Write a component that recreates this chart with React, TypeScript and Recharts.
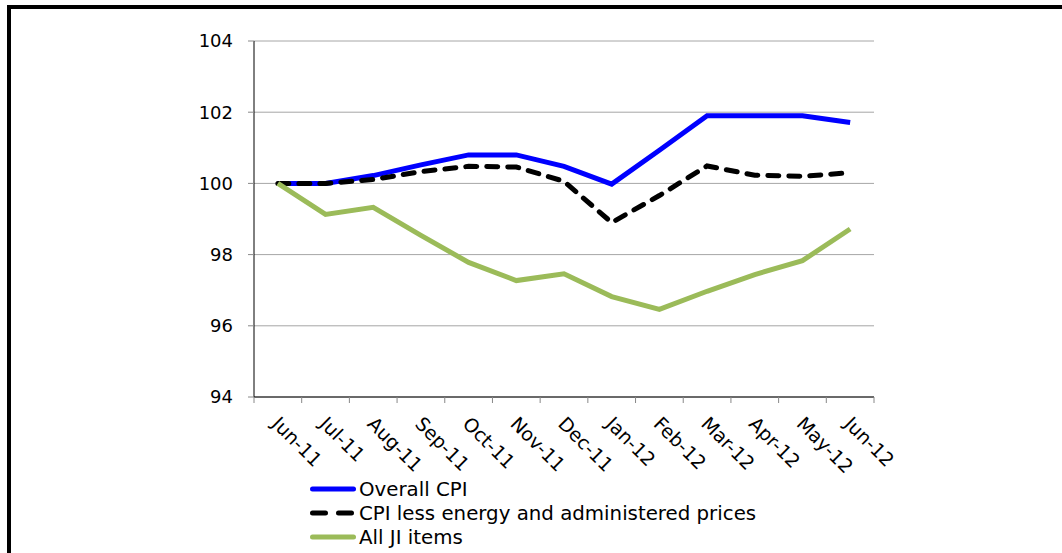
import React from "react";
import { LineChart, Line, XAxis, YAxis, CartesianGrid, Legend } from "recharts";

const months = [
  "Jun-11", "Jul-11", "Aug-11", "Sep-11", "Oct-11", "Nov-11", "Dec-11",
  "Jan-12", "Feb-12", "Mar-12", "Apr-12", "May-12", "Jun-12",
];
const overallCpi = [100, 100, 100.22, 100.52, 100.8, 100.8, 100.48, 99.98, 100.93, 101.9, 101.9, 101.9, 101.71];
const coreCpi = [100, 100, 100.11, 100.33, 100.48, 100.46, 100.06, 98.9, 99.66, 100.49, 100.23, 100.2, 100.3];
const jiItems = [100, 99.13, 99.33, 98.54, 97.78, 97.27, 97.46, 96.82, 96.46, 96.97, 97.44, 97.83, 98.72];
const yTicks = [94, 96, 98, 100, 102, 104];

const seriesNames = {
  overall: "Overall CPI",
  core: "CPI less energy and administered prices",
  ji: "All JI items",
};

const FONT = "'DejaVu Sans', Verdana, sans-serif";

const data = months.map((m, i) => ({
  month: m,
  overall: overallCpi[i],
  core: coreCpi[i],
  ji: jiItems[i],
}));

const legendRows = [
  { name: seriesNames.overall, color: "#0000ff", dash: undefined },
  { name: seriesNames.core, color: "#000000", dash: "13 13" },
  { name: seriesNames.ji, color: "#9bbb59", dash: undefined },
];

// half of one category slot, ticks sit on slot boundaries like Excel
const HALF = 620 / 13 / 2;

const MonthTick = (props: any) => {
  const { x, y, payload, index } = props;
  const tx = x - 7;
  const ty = y + 28;
  return (
    <g>
      <line x1={x - HALF} x2={x - HALF} y1={y} y2={y + 6} stroke="#888" />
      {index === months.length - 1 && (
        <line x1={x + HALF} x2={x + HALF} y1={y} y2={y + 6} stroke="#888" />
      )}
      <text
        x={tx}
        y={ty}
        transform={`rotate(45 ${tx} ${ty})`}
        textAnchor="start"
        fontSize={19}
        fontFamily={FONT}
        fill="#000"
      >
        {payload.value}
      </text>
    </g>
  );
};

const LegendBox = () => (
  <div style={{ fontFamily: FONT, fontSize: 19.8, color: "#000" }}>
    {legendRows.map((r) => (
      <div key={r.name} style={{ display: "flex", alignItems: "center", height: 24 }}>
        <svg width={51} height={10}>
          <line
            x1={4.5}
            x2={45.5}
            y1={5}
            y2={5}
            stroke={r.color}
            strokeWidth={5}
            strokeLinecap="round"
            strokeDasharray={r.dash}
          />
        </svg>
        <span style={{ whiteSpace: "nowrap" }}>{r.name}</span>
      </div>
    ))}
  </div>
);

export default function App() {
  return (
    <div
      style={{
        position: "absolute",
        left: 0,
        top: 0,
        width: 1062,
        height: 553,
        overflow: "hidden",
        background: "#fff",
      }}
    >
      <div
        style={{
          position: "absolute",
          left: 7,
          top: 5,
          width: 1200,
          height: 800,
          border: "4px solid #000",
        }}
      />
      <div style={{ position: "absolute", left: 0, top: 0 }}>
        <LineChart
          width={1062}
          height={553}
          data={data}
          margin={{ top: 41, right: 188, bottom: 96, left: 194 }}
        >
          <CartesianGrid vertical={false} stroke="#a6a6a6" />
          <XAxis
            dataKey="month"
            height={60}
            padding={{ left: HALF, right: HALF }}
            tickLine={false}
            tickSize={0}
            tickMargin={0}
            axisLine={{ stroke: "#000" }}
            tick={<MonthTick />}
            interval={0}
          />
          <YAxis
            width={60}
            domain={[94, 104]}
            ticks={yTicks}
            tickSize={6}
            tickMargin={15}
            axisLine={{ stroke: "#000" }}
            tickLine={{ stroke: "#888" }}
            tick={{ fill: "#000", fontSize: 18, fontFamily: FONT }}
          />
          <Legend
            layout="vertical"
            align="center"
            verticalAlign="middle"
            content={<LegendBox />}
            wrapperStyle={{ left: 308, top: 477, width: 600 }}
          />
          <Line
            dataKey="overall"
            name={seriesNames.overall}
            stroke="#0000ff"
            strokeWidth={5}
            dot={false}
            isAnimationActive={false}
          />
          <Line
            dataKey="core"
            name={seriesNames.core}
            stroke="#000000"
            strokeWidth={5}
            strokeDasharray="11 10"
            strokeLinecap="round"
            dot={false}
            isAnimationActive={false}
          />
          <Line
            dataKey="ji"
            name={seriesNames.ji}
            stroke="#9bbb59"
            strokeWidth={5}
            dot={false}
            isAnimationActive={false}
          />
        </LineChart>
      </div>
    </div>
  );
}
